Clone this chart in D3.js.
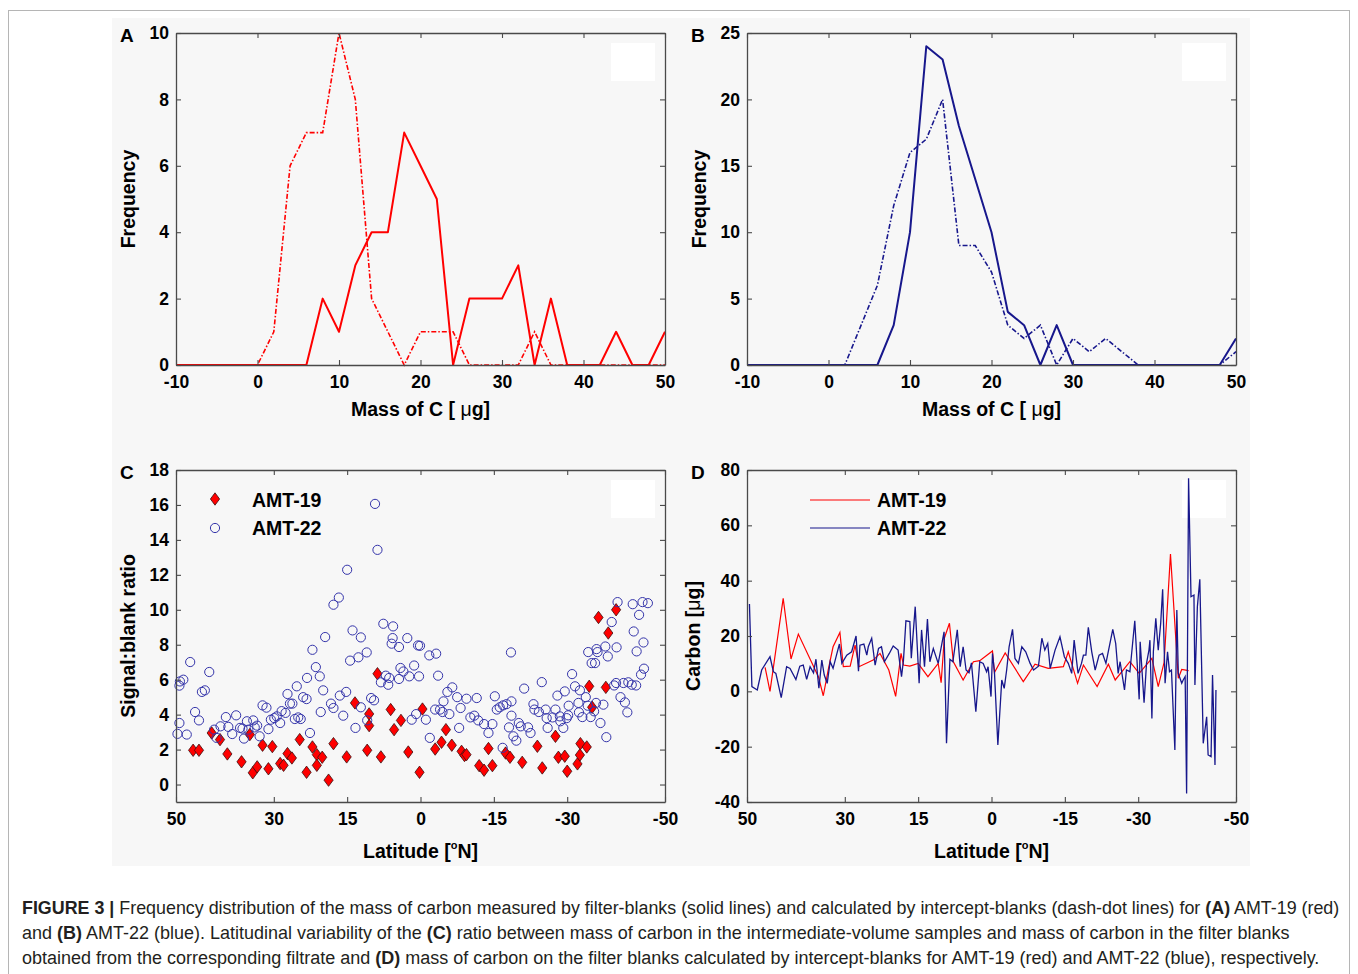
<!DOCTYPE html>
<html>
<head>
<meta charset="utf-8">
<script src="https://cdn.jsdelivr.net/npm/d3@7"></script>
<style>
  body { margin: 0; background: #fff; }
  text { font-family: "Liberation Sans", Arial, sans-serif; }
</style>
</head>
<body>
<div id="fig"></div>
<script>
// ---- data ----
// A / B: frequency per 2 µg bin of carbon mass
const massBins = [-10, -8, -6, -4, -2, 0, 2, 4, 6, 8, 10, 12, 14, 16, 18, 20, 22, 24, 26, 28, 30, 32, 34, 36, 38, 40, 42, 44, 46, 48, 50]
const amt19Filter    = [0, 0, 0, 0, 0, 0, 0, 0, 0, 2, 1, 3, 4, 4, 7, 6, 5, 0, 2, 2, 2, 3, 0, 2, 0, 0, 0, 1, 0, 0, 1]
const amt19Intercept = [0, 0, 0, 0, 0, 0, 1, 6, 7, 7, 10, 8, 2, 1, 0, 1, 1, 1, 0, 0, 0, 0, 1, 0, 0, 0, 0, 0, 0, 0, 0]
const amt22Filter    = [0, 0, 0, 0, 0, 0, 0, 0, 0, 3, 10, 24, 23, 18, 14, 10, 4, 3, 0, 3, 0, 0, 0, 0, 0, 0, 0, 0, 0, 0, 2]
const amt22Intercept = [0, 0, 0, 0, 0, 0, 0, 3, 6, 12, 16, 17, 20, 9, 9, 7, 3, 2, 3, 0, 2, 1, 2, 1, 0, 0, 0, 0, 0, 0, 1]
const massTicks = [-10, 0, 10, 20, 30, 40, 50]
const freqTicksA = [0, 2, 4, 6, 8, 10]
const freqTicksB = [0, 5, 10, 15, 20, 25]

// C: signal:blank ratio vs latitude  [lat, ratio]
const ratio19 = [[46.5,1.96],[45.3,1.96],[42.7,2.95],[41.0,2.57],[39.5,1.75],[36.6,1.3],[34.9,2.86],[34.3,0.67],[33.4,1.01],[32.3,2.25],[31.1,0.9],[30.3,2.17],[28.7,1.2],[28.0,1.1],[27.2,1.77],[26.3,1.52],[24.7,2.57],[23.3,0.7],[22.1,2.15],[21.2,1.71],[21.2,1.1],[20.1,1.56],[18.8,0.25],[17.8,2.34],[15.1,1.58],[13.4,4.67],[10.9,1.96],[10.5,4.04],[10.5,3.37],[8.8,6.34],[8.1,1.58],[6.1,4.29],[5.4,3.14],[4.0,3.67],[2.5,1.86],[0.2,0.7],[-0.4,4.32],[-3.0,2.03],[-4.3,2.42],[-5.2,3.14],[-6.4,2.25],[-8.4,1.9],[-9.0,1.66],[-9.4,1.71],[-12.0,1.08],[-13.0,0.82],[-13.9,2.06],[-14.7,1.08],[-17.4,1.8],[-18.3,1.56],[-20.8,1.27],[-23.9,2.19],[-24.9,0.95],[-27.6,2.76],[-28.2,1.56],[-29.5,1.62],[-30.0,0.76],[-32.1,1.18],[-32.6,1.69],[-32.7,2.34],[-34.0,2.15],[-34.5,5.62],[-35.1,4.42],[-36.4,9.56],[-37.9,5.56],[-38.4,8.67],[-40.0,10.0]]
const ratio22 = [[49.3,5.66],[49.2,5.9],[48.5,6.0],[49.3,3.52],[49.7,2.9],[47.8,2.86],[47.1,7.01],[46.1,4.15],[45.3,3.67],[44.7,5.3],[44.1,5.39],[43.2,6.44],[42.2,3.14],[41.7,2.67],[40.9,3.33],[39.8,3.86],[39.3,3.3],[38.5,2.89],[37.7,3.96],[36.9,3.24],[36.4,3.2],[36.1,2.63],[35.5,3.62],[35.2,3.14],[34.2,3.67],[33.9,3.27],[33.4,3.37],[32.9,2.76],[32.3,4.53],[31.5,4.4],[31.1,3.17],[30.6,3.71],[29.9,3.8],[29.4,3.9],[28.7,3.52],[28.4,4.2],[27.6,4.1],[27.2,5.18],[26.7,4.63],[26.2,4.63],[25.7,3.75],[25.3,5.62],[25.0,3.84],[24.5,3.75],[24.0,5.0],[23.3,4.89],[23.2,6.1],[22.6,2.95],[22.1,7.71],[21.4,6.72],[20.6,6.19],[19.9,5.39],[19.5,8.44],[20.4,4.15],[18.3,4.63],[17.8,4.38],[17.8,10.29],[16.7,10.7],[16.5,5.09],[15.8,3.94],[15.2,5.3],[15.0,12.29],[14.4,7.09],[13.9,8.82],[13.3,3.24],[12.7,7.28],[12.2,8.42],[12.2,4.42],[11.0,7.56],[10.9,3.67],[10.1,4.95],[9.5,4.82],[9.3,16.06],[8.8,13.43],[8.1,5.85],[7.6,9.2],[7.1,6.23],[6.6,5.71],[6.4,6.1],[5.9,8.06],[5.7,8.38],[5.6,9.05],[4.4,7.87],[4.4,6.04],[4.1,6.67],[3.5,6.47],[2.7,8.38],[2.3,6.19],[1.8,3.71],[1.3,6.81],[0.9,4.03],[0.5,7.96],[0.1,7.94],[0.3,6.19],[-1.1,3.71],[-1.9,2.67],[-1.8,7.39],[-3.2,7.49],[-3.0,4.29],[-3.6,6.23],[-4.0,4.29],[-4.7,4.76],[-4.5,4.15],[-5.5,5.3],[-5.9,4.03],[-6.5,5.56],[-7.5,5.0],[-7.9,3.24],[-8.2,4.38],[-9.4,4.91],[-10.2,3.84],[-11.0,3.94],[-11.5,4.95],[-11.8,3.67],[-13.0,3.46],[-13.9,2.95],[-14.7,3.46],[-15.2,5.05],[-15.6,4.29],[-16.2,4.42],[-16.9,4.53],[-16.8,2.1],[-17.6,4.6],[-18.1,3.27],[-18.5,7.56],[-18.6,4.76],[-18.6,3.94],[-19.0,2.76],[-19.6,2.51],[-20.1,3.52],[-20.5,3.33],[-21.2,5.49],[-22.0,3.27],[-22.5,2.95],[-23.1,4.6],[-23.3,4.29],[-24.2,4.15],[-24.8,5.86],[-25.6,4.29],[-25.8,3.8],[-26.0,3.24],[-27.0,3.84],[-27.6,4.29],[-28.0,5.09],[-28.5,3.9],[-28.6,3.62],[-29.2,3.24],[-29.5,5.33],[-29.9,3.8],[-30.3,4.51],[-30.2,3.96],[-31.0,6.32],[-31.6,5.62],[-32.3,4.67],[-32.4,4.13],[-32.6,5.39],[-33.1,3.86],[-33.8,5.0],[-34.2,4.51],[-34.3,7.58],[-34.8,3.86],[-35.0,6.95],[-35.7,6.95],[-36.0,7.75],[-36.2,7.58],[-35.5,4.19],[-35.9,4.67],[-36.8,3.52],[-37.4,4.57],[-37.8,7.9],[-38.0,2.71],[-38.3,7.33],[-39.1,9.3],[-39.6,5.67],[-40.0,5.81],[-40.1,7.85],[-40.3,10.44],[-40.9,5.0],[-41.5,5.81],[-41.8,4.7],[-42.3,4.13],[-42.5,5.85],[-43.2,5.71],[-43.4,10.32],[-43.6,8.76],[-44.1,5.67],[-44.2,7.62],[-44.7,9.71],[-45.1,6.29],[-45.4,10.44],[-45.6,8.13],[-45.7,6.63],[-46.5,10.38]]

// D: carbon on filter blanks vs latitude  [lat, µg]
const carbon19 = [[46.3,8.7],[45.3,0],[42.6,33.6],[41.0,11.7],[39.5,20.7],[35.4,5.3],[34.4,-1.6],[33.4,7.7],[32.4,16.1],[31.0,21.3],[30.3,8.9],[28.9,9.1],[27.9,16.7],[27.1,8.9],[24.2,11.3],[22.8,13.7],[21.0,7.7],[19.6,-1.8],[18.5,13.7],[18.0,9.5],[16.7,9.1],[15.0,10.1],[13.0,5.3],[10.9,10.1],[10.3,3.1],[9.65,19.2],[8.6,24.6],[7.8,10.7],[5.8,4.1],[3.7,10.7],[2.4,11.1],[-0.2,14.6],[-0.6,6.8],[-2.8,13.9],[-6.5,3.5],[-8.9,9.8],[-11.6,8.3],[-14.7,8.9],[-15.7,14.3],[-17.6,2.9],[-18.8,9.5],[-21.6,1.7],[-23.9,9.8],[-25.3,4.1],[-28.3,10.7],[-30.2,6.5],[-32.8,11.9],[-34.1,1.7],[-35.3,10.5],[-36.6,49.6],[-38.2,4.7],[-38.9,7.9],[-40.3,7.5]]
const carbon22 = [[49.5,31.6],[49.0,1.7],[47.9,0.5],[47.0,7.7],[45.3,12.5],[44.6,7.1],[44.1,6.5],[43.0,-2.3],[41.9,8.9],[41.2,8.3],[40.0,4.3],[39.2,9.1],[38.5,9.5],[37.8,4.3],[37.1,8.9],[36.4,6.7],[35.9,11.6],[35.3,1.1],[34.7,11.3],[34.2,5.9],[33.6,2.9],[33.0,10.7],[32.4,8.3],[31.7,13.1],[31.1,17.1],[30.6,10.1],[29.6,13.1],[28.6,14.3],[27.7,20],[27.2,7.3],[26.9,16.7],[26.1,17.1],[25.5,13.1],[25.2,16.1],[24.5,19.2],[23.8,9.5],[23.1,15.5],[22.5,16.1],[21.9,10.7],[20.9,13.7],[20.1,16.4],[19.1,14.9],[18.4,5.3],[18.0,11.3],[17.5,25.5],[16.7,25.2],[16.4,12.0],[15.6,30.6],[14.8,2.9],[14.3,22.2],[13.7,8.9],[13.1,26.1],[12.6,10.7],[11.9,15.5],[10.9,10.1],[9.7,21.5],[9.2,-18.8],[8.5,11.6],[7.9,10.7],[7.0,22.2],[6.4,8.9],[5.8,16.1],[5.2,7.7],[4.6,6.7],[4.1,10.3],[3.2,-7.4],[2.4,10.7],[1.7,10.1],[1.0,7.1],[0.7,8.9],[0.1,-1.9],[-0.2,13.7],[-0.6,7.1],[-1.3,-19.4],[-2.1,4.1],[-2.6,1.1],[-3.1,7.7],[-3.6,16.1],[-4.3,22.4],[-4.8,11.9],[-5.5,10.1],[-6.2,16.1],[-7.0,14.3],[-7.9,10.1],[-8.6,7.7],[-9.6,9.1],[-10.3,19.2],[-10.9,14.9],[-11.5,17.3],[-12.0,8.3],[-13.0,14.9],[-14.0,19.7],[-14.9,12.5],[-15.7,10.1],[-16.4,6.5],[-16.9,18.5],[-17.7,6.5],[-18.4,10.1],[-18.8,13.1],[-19.3,13.1],[-19.8,23.1],[-20.5,14.3],[-21.2,7.7],[-22.0,13.1],[-22.7,13.7],[-23.4,10.1],[-24.8,22.4],[-25.4,17.3],[-25.9,6.5],[-26.3,10.7],[-27.2,0.5],[-27.6,7.7],[-28.3,7.1],[-29.3,25.5],[-30.2,-2.9],[-30.4,17.9],[-31.2,-4.1],[-31.7,10.1],[-32.2,14.9],[-32.4,18.5],[-32.8,-9.8],[-33.1,14.3],[-33.6,26.4],[-34.1,14.9],[-34.6,24.6],[-35.0,36.9],[-35.5,2.9],[-36.0,14.3],[-36.4,7.1],[-36.8,7.7],[-37.5,-21.2],[-37.9,29.4],[-38.2,6.5],[-38.9,2.9],[-39.2,4.1],[-39.6,5.3],[-39.9,-36.9],[-40.3,77.0],[-40.8,34.2],[-41.4,34.8],[-41.6,2.3],[-42.1,30.6],[-42.6,40.5],[-43.3,-18.8],[-44.0,-9.2],[-44.3,-23.0],[-44.9,-23.6],[-45.2,5.9],[-45.7,-26.6],[-45.9,0.5]]
const latTicks = [50, 30, 15, 0, -15, -30, -50]
const ratioTicks = [0, 2, 4, 6, 8, 10, 12, 14, 16, 18]
const carbonTicks = [-40, -20, 0, 20, 40, 60, 80]

// ---- layout ----
const W = 1358, H = 974
const red = "#ff0000"
const navy = "#17178c"
const circleBlue = "#3434aa"
const axisColor = "#4a4a4a"

const svg = d3.select("#fig").append("svg")
  .attr("width", W)
  .attr("height", H)

// page frame + figure background
svg.append("rect")
  .attr("x", 8.5).attr("y", 10.5).attr("width", 1341).attr("height", 980)
  .attr("fill", "#fff").attr("stroke", "#b5b5b5")
svg.append("rect")
  .attr("x", 112).attr("y", 18).attr("width", 1138).attr("height", 848)
  .attr("fill", "#f7f7f7")

const boxes = {
  A: { left: 176, right: 665, top: 33, bottom: 365 },
  B: { left: 747, right: 1236, top: 33, bottom: 365 },
  C: { left: 176, right: 665, top: 470, bottom: 802 },
  D: { left: 747, right: 1236, top: 470, bottom: 802 }
}

function styleAxis(sel) {
  sel.select(".domain").attr("stroke", axisColor).attr("stroke-width", 1.3)
  sel.selectAll(".tick line").attr("stroke", axisColor).attr("stroke-width", 1.1)
  sel.selectAll(".tick text")
    .attr("fill", "#000")
    .style("font-size", "17.5px")
    .style("font-weight", "bold")
}

function panel(name, xDomain, yDomain, xTicks, yTicks) {
  let b = boxes[name]
  let x = d3.scaleLinear().domain(xDomain).range([b.left, b.right])
  let y = d3.scaleLinear().domain(yDomain).range([b.bottom, b.top])
  let g = svg.append("g").attr("class", "panel-" + name)

  // faint white legend-box remnant in the upper right corner
  g.append("rect")
    .attr("x", b.right - 54).attr("y", b.top + 10)
    .attr("width", 44).attr("height", 38)
    .attr("fill", "#fff")

  let plot = g.append("g")
  let fmt = d => String(d)

  g.append("g")
    .attr("transform", `translate(0,${b.bottom})`)
    .call(d3.axisBottom(x).tickValues(xTicks).tickSizeInner(-5).tickSizeOuter(0).tickPadding(11).tickFormat(fmt))
    .call(styleAxis)
  g.append("g")
    .attr("transform", `translate(0,${b.top})`)
    .call(d3.axisTop(x).tickValues(xTicks).tickSizeInner(-5).tickSizeOuter(0).tickFormat(""))
    .call(styleAxis)
  g.append("g")
    .attr("transform", `translate(${b.left},0)`)
    .call(d3.axisLeft(y).tickValues(yTicks).tickSizeInner(-5).tickSizeOuter(0).tickPadding(7).tickFormat(fmt))
    .call(styleAxis)
  g.append("g")
    .attr("transform", `translate(${b.right},0)`)
    .call(d3.axisRight(y).tickValues(yTicks).tickSizeInner(-5).tickSizeOuter(0).tickFormat(""))
    .call(styleAxis)

  // panel letter
  g.append("text")
    .attr("x", b.left - 56).attr("y", b.top + 9)
    .style("font-size", "19px").style("font-weight", "bold")
    .text(name)

  return { g, plot, x, y, b }
}

function xTitle(p, parts, dy) {
  let t = p.g.append("text")
    .attr("x", (p.b.left + p.b.right) / 2)
    .attr("y", p.b.bottom + dy)
    .attr("text-anchor", "middle")
    .style("font-size", "19.5px").style("font-weight", "bold")
  parts(t)
}

function yTitle(p, label, dx) {
  p.g.append("text")
    .attr("transform", `translate(${p.b.left - dx},${(p.b.top + p.b.bottom) / 2}) rotate(-90)`)
    .attr("text-anchor", "middle")
    .style("font-size", "19.5px").style("font-weight", "bold")
    .text(label)
}

const massLabel = t => {
  t.append("tspan").text("Mass of C [ ")
  t.append("tspan").style("font-weight", "normal").text("μ")
  t.append("tspan").text("g]")
}
const latLabel = t => {
  t.append("tspan").text("Latitude [")
  t.append("tspan").style("font-size", "11px").attr("dy", -9).text("o")
  t.append("tspan").attr("dy", 9).text("N]")
}

// ---- A & B: frequency distributions ----
function freqPanel(name, yMax, yTicks, solid, dashed, color) {
  let p = panel(name, [-10, 50], [0, yMax], massTicks, yTicks)
  let line = d3.line().x((d, i) => p.x(massBins[i])).y(d => p.y(d))
  p.plot.append("path")
    .attr("d", line(dashed))
    .attr("fill", "none").attr("stroke", color)
    .attr("stroke-width", 1.6).attr("stroke-dasharray", "5,2,1.5,2")
  p.plot.append("path")
    .attr("d", line(solid))
    .attr("fill", "none").attr("stroke", color)
    .attr("stroke-width", 2)
    .attr("stroke-linejoin", "round")
  xTitle(p, massLabel, 51)
  yTitle(p, "Frequency", 41)
  return p
}

freqPanel("A", 10, freqTicksA, amt19Filter, amt19Intercept, red)
freqPanel("B", 25, freqTicksB, amt22Filter, amt22Intercept, navy)

// ---- C: signal:blank ratio ----
const diamond = "M0,-6.2L4.6,0L0,6.2L-4.6,0Z"
{
  let p = panel("C", [50, -50], [-1, 18], latTicks, ratioTicks)
  p.plot.selectAll(".amt19")
    .data(ratio19)
    .enter()
    .append("path")
    .attr("class", "amt19")
    .attr("d", diamond)
    .attr("transform", d => `translate(${p.x(d[0])},${p.y(d[1])})`)
    .attr("fill", red).attr("stroke", "#3a1010").attr("stroke-width", 0.8)
  p.plot.selectAll(".amt22")
    .data(ratio22)
    .enter()
    .append("circle")
    .attr("class", "amt22")
    .attr("cx", d => p.x(d[0]))
    .attr("cy", d => p.y(d[1]))
    .attr("r", 4.6)
    .attr("fill", "none").attr("stroke", circleBlue).attr("stroke-width", 1)

  // legend
  let lg = p.g.append("g")
  lg.append("path").attr("d", diamond).attr("transform", "translate(215,499)")
    .attr("fill", red).attr("stroke", "#3a1010").attr("stroke-width", 0.8)
  lg.append("circle").attr("cx", 215).attr("cy", 528).attr("r", 4.6)
    .attr("fill", "none").attr("stroke", circleBlue)
  lg.append("text").attr("x", 252).attr("y", 507)
    .style("font-size", "19.5px").style("font-weight", "bold").text("AMT-19")
  lg.append("text").attr("x", 252).attr("y", 535)
    .style("font-size", "19.5px").style("font-weight", "bold").text("AMT-22")

  xTitle(p, latLabel, 56)
  yTitle(p, "Signal:blank ratio", 41)
}

// ---- D: carbon on filter blanks ----
{
  let p = panel("D", [50, -50], [-40, 80], latTicks, carbonTicks)
  let line = d3.line().x(d => p.x(d[0])).y(d => p.y(d[1]))
  p.plot.append("path")
    .attr("d", line(carbon19))
    .attr("fill", "none").attr("stroke", red).attr("stroke-width", 1.2)
  p.plot.append("path")
    .attr("d", line(carbon22))
    .attr("fill", "none").attr("stroke", navy).attr("stroke-width", 1.3)

  let lg = p.g.append("g")
  lg.append("line").attr("x1", 810).attr("x2", 870).attr("y1", 500).attr("y2", 500)
    .attr("stroke", red).attr("stroke-width", 1.2)
  lg.append("line").attr("x1", 810).attr("x2", 870).attr("y1", 528).attr("y2", 528)
    .attr("stroke", navy).attr("stroke-width", 1.2)
  lg.append("text").attr("x", 877).attr("y", 507)
    .style("font-size", "19.5px").style("font-weight", "bold").text("AMT-19")
  lg.append("text").attr("x", 877).attr("y", 535)
    .style("font-size", "19.5px").style("font-weight", "bold").text("AMT-22")

  xTitle(p, latLabel, 56)
  p.g.append("text")
    .attr("transform", `translate(${p.b.left - 47},${(p.b.top + p.b.bottom) / 2}) rotate(-90)`)
    .attr("text-anchor", "middle")
    .style("font-size", "19.5px").style("font-weight", "bold")
    .call(t => {
      t.append("tspan").text("Carbon [")
      t.append("tspan").style("font-weight", "normal").text("μ")
      t.append("tspan").text("g]")
    })
}

// ---- caption ----
const captionLines = [
  [["FIGURE 3 |", true], [" Frequency distribution of the mass of carbon measured by filter-blanks (solid lines) and calculated by intercept-blanks (dash-dot lines) for ", false], ["(A)", true], [" AMT-19 (red)", false]],
  [["and ", false], ["(B)", true], [" AMT-22 (blue). Latitudinal variability of the ", false], ["(C)", true], [" ratio between mass of carbon in the intermediate-volume samples and mass of carbon in the filter blanks", false]],
  [["obtained from the corresponding filtrate and ", false], ["(D)", true], [" mass of carbon on the filter blanks calculated by intercept-blanks for AMT-19 (red) and AMT-22 (blue), respectively.", false]]
]
const captionWidths = [1318, 1268, 1298]

captionLines.forEach((parts, i) => {
  let t = svg.append("text")
    .attr("x", 22).attr("y", 914 + i * 25)
    .attr("fill", "#231f20")
    .style("font-size", "16.5px")
  parts.forEach(([s, bold]) => {
    t.append("tspan").style("font-weight", bold ? "bold" : "normal").text(s)
  })
  let w = t.node().getComputedTextLength()
  t.style("font-size", (16.5 * captionWidths[i] / w).toFixed(2) + "px")
})
</script>
</body>
</html>
